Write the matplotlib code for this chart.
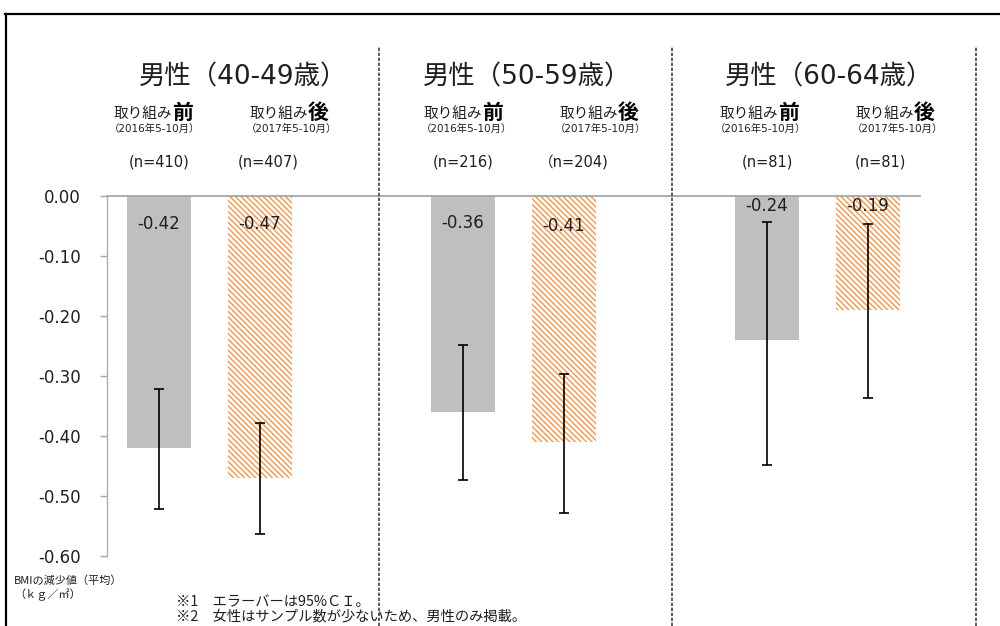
import numpy as np
import matplotlib.pyplot as plt
from matplotlib.lines import Line2D

plt.rcParams.update({
    "font.family": ["DejaVu Sans", "Noto Sans CJK JP"],
    "hatch.linewidth": 1.0,
})
JP = ["Noto Sans CJK JP", "DejaVu Sans"]
MIX = ["DejaVu Sans", "Noto Sans CJK JP"]

# ---- data (BMI change, kg/m2) ----
groups = ["男性（40-49歳）", "男性（50-59歳）", "男性（60-64歳）"]
n_before = ["(n=410)", "(n=216)", "(n=81)"]
n_after = ["(n=407)", "（n=204)", "(n=81)"]
before_mean = [-0.42, -0.36, -0.24]
before_ci_hi = [-0.322, -0.249, -0.043]
before_ci_lo = [-0.522, -0.473, -0.448]
after_mean = [-0.47, -0.41, -0.19]
after_ci_hi = [-0.379, -0.296, -0.047]
after_ci_lo = [-0.563, -0.528, -0.337]
yticks = [0.0, -0.1, -0.2, -0.3, -0.4, -0.5, -0.6]

# ---- layout (pixels in a 1000x626 canvas) ----
W, H = 1000, 626
title_x = [243, 527, 829]
split_before = [172, 482, 778]
split_after = [308, 618, 914]
date_before_x = [154, 466, 760]
date_after_x = [291, 600, 897]
n_before_x = [159, 463, 767]
n_after_x = [268, 574, 880]
sep_x = [379, 672, 976]
val_y_before = [-0.047, -0.045, -0.017]
val_y_after = [-0.047, -0.050, -0.017]

GRAY = "#BFBFBF"
ORANGE = "#F79646"
TXT = "#1f1f1f"


def fx(x):
    return x / W


def fy(y):
    return 1 - y / H


fig = plt.figure(figsize=(10, 6.26), dpi=100)
ax = fig.add_axes([fx(107), fy(556), (920 - 107) / W, (556 - 196) / H])

x = np.arange(len(groups))
off, w = 0.166, 0.21
bm, am = np.array(before_mean), np.array(after_mean)
ax.bar(x - off, bm, w, color=GRAY, linewidth=0)
ax.bar(x + off, am, w, facecolor="white", edgecolor=ORANGE,
       hatch="\\\\\\\\\\\\", linewidth=0)

err_kw = dict(fmt="none", ecolor="black", elinewidth=1.2, capsize=3.6, capthick=1.2)
ax.errorbar(x - off, bm, yerr=[bm - np.array(before_ci_lo), np.array(before_ci_hi) - bm], **err_kw)
ax.errorbar(x + off, am, yerr=[am - np.array(after_ci_lo), np.array(after_ci_hi) - am], **err_kw)

for i in range(len(groups)):
    ax.text(x[i] - off, val_y_before[i], f"{before_mean[i]:.2f}", ha="center",
            va="center", fontsize=12, color=TXT)
    ax.text(x[i] + off, val_y_after[i], f"{after_mean[i]:.2f}", ha="center",
            va="center", fontsize=12, color=TXT)

ax.set_xlim(-0.336, 2.338)
ax.set_ylim(-0.6, 0)
ax.set_xticks([])
ax.set_yticks(yticks)
ax.set_yticklabels([f"{v:.2f}" for v in yticks], fontsize=12, color=TXT)
ax.tick_params(axis="y", length=5, width=1, color="#A6A6A6", pad=14)
for s in ["right", "bottom"]:
    ax.spines[s].set_visible(False)
ax.spines["top"].set_color("#A0A0A0")
ax.spines["top"].set_linewidth(1.2)
ax.spines["left"].set_color("#B0B0B0")
ax.spines["left"].set_linewidth(1)

# group headers
for i, g in enumerate(groups):
    fig.text(fx(title_x[i]), fy(77), g, ha="center", va="center",
             fontsize=19, family=MIX, color=TXT)
    fig.text(fx(split_before[i]), fy(114), "取り組み", ha="right", va="center",
             fontsize=10.5, family=JP, color=TXT)
    fig.text(fx(split_before[i]), fy(112), "前", ha="left", va="center",
             fontsize=15, family=JP, weight="bold", color="black")
    fig.text(fx(split_after[i]), fy(114), "取り組み", ha="right", va="center",
             fontsize=10.5, family=JP, color=TXT)
    fig.text(fx(split_after[i]), fy(112), "後", ha="left", va="center",
             fontsize=15, family=JP, weight="bold", color="black")
    fig.text(fx(date_before_x[i]), fy(129), "（2016年5-10月）", ha="center",
             va="center", fontsize=7.5, family=MIX, color=TXT)
    fig.text(fx(date_after_x[i]), fy(129), "（2017年5-10月）", ha="center",
             va="center", fontsize=7.5, family=MIX, color=TXT)
    fig.text(fx(n_before_x[i]), fy(162), n_before[i], ha="center", va="center",
             fontsize=10.5, family=MIX, color=TXT)
    fig.text(fx(n_after_x[i]), fy(162), n_after[i], ha="center", va="center",
             fontsize=10.5, family=MIX, color=TXT)

# frame and dashed separators
fig.add_artist(Line2D([fx(5), 1], [fy(14), fy(14)], color="black", lw=1.6))
fig.add_artist(Line2D([fx(5.5), fx(5.5)], [0, fy(14)], color="black", lw=1.6))
for sx in sep_x:
    fig.add_artist(Line2D([fx(sx), fx(sx)], [0, fy(46)], color="#404040",
                          lw=1.2, ls=(0, (2, 1))))

# footnotes
fig.text(fx(14), fy(581), "BMIの減少値（平均）", fontsize=8, va="center",
         family=JP, color=TXT)
fig.text(fx(14), fy(595), "（ｋｇ／㎡）", fontsize=8, va="center",
         family=JP, color=TXT)
fig.text(fx(176), fy(602), "※1　エラーバーは95%ＣＩ。", fontsize=10.3, va="center",
         family=JP, color=TXT)
fig.text(fx(176), fy(616), "※2　女性はサンプル数が少ないため、男性のみ掲載。",
         fontsize=10.3, va="center", family=JP, color=TXT)

fig.savefig("out.png", dpi=100)
